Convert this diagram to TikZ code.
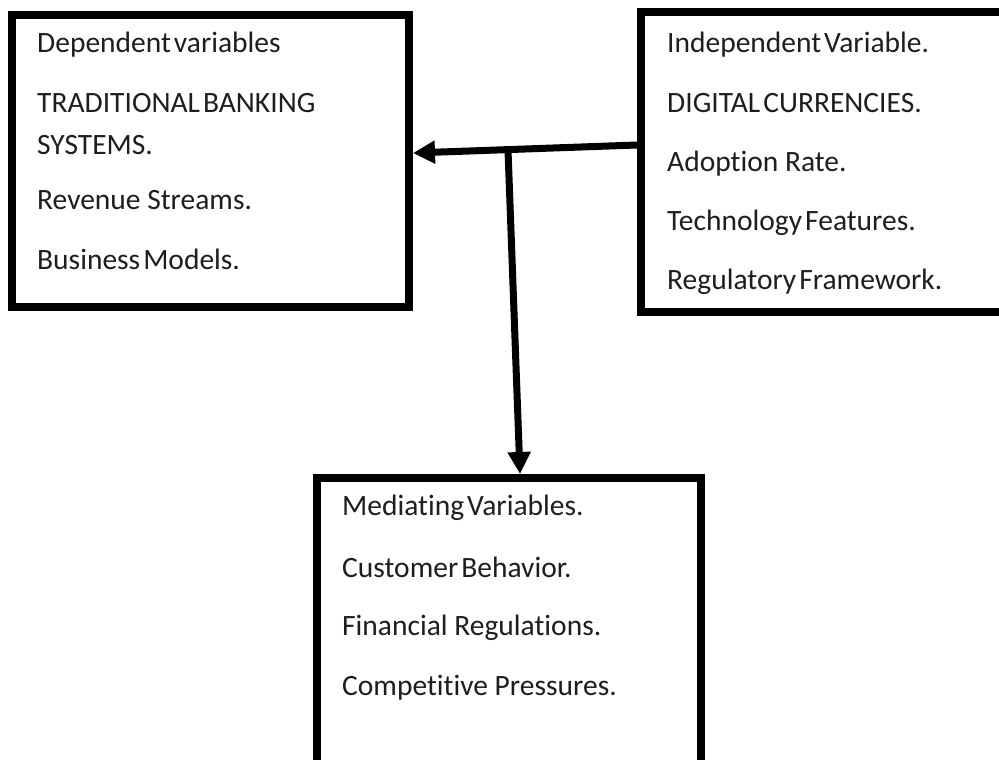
\documentclass[tikz,border=0pt]{standalone}
\usepackage{fontspec}
\setmainfont{Carlito}[Ligatures=NoCommon]
\newfontfamily\tightfont{Carlito}[Ligatures=NoCommon, WordSpace=0.45]
\usetikzlibrary{arrows.meta}
\definecolor{ink}{HTML}{1E1E1E}
\begin{document}
\begin{tikzpicture}[x=1pt,y=-1pt,
  varbox/.style={draw=black, line width=8pt, rectangle, inner sep=0pt},
  item/.style={anchor=base west, inner sep=0pt, text=ink,
    font=\tightfont\fontsize{29.5}{35}\selectfont},
  plainitem/.style={item, font=\rmfamily\fontsize{29.5}{35}\selectfont},
  link/.style={line width=7pt, -{Triangle[length=22pt,width=22pt]}}]
% canvas
\useasboundingbox (0,0) rectangle (999,760);
\clip (0,0) rectangle (999,760);
\fill[white] (0,0) rectangle (999,760);

% the three variable boxes (right and lower boxes run past the edge)
\node[varbox, minimum width=397pt, minimum height=291.5pt] (lbox) at (210.5,161.25) {};
\node[varbox, minimum width=399pt, minimum height=300pt] (rbox) at (840.5,162) {};
\node[varbox, minimum width=384pt, minimum height=322pt] (bbox) at (509,639) {};

% dependent variables
\node[item] (l1) at (37,53)  {Dependent variables};
\node[item] (l2) at (37,113) {TRADITIONAL BANKING};
\node[item] (l3) at (37,154) {SYSTEMS.};
\node[plainitem] (l4) at (37,209) {Revenue Streams.};
\node[item] (l5) at (37,269) {Business Models.};

% independent variables
\node[item] (r1) at (667,53)  {Independent Variable.};
\node[item] (r2) at (667,112) {DIGITAL CURRENCIES.};
\node[plainitem] (r3) at (667,171) {Adoption Rate.};
\node[item] (r4) at (667,230) {Technology Features.};
\node[item] (r5) at (667,289) {Regulatory Framework.};

% mediating variables
\node[item] (b1) at (342,515) {Mediating Variables.};
\node[item] (b2) at (342,577) {Customer Behavior.};
\node[plainitem] (b3) at (342,635) {Financial Regulations.};
\node[plainitem] (b4) at (342,695) {Competitive Pressures.};

% connectors
\coordinate (hs) at (0,145);
\coordinate (he) at (0,153);
\coordinate (j) at (508,150);
\draw[link] (rbox.west |- hs) -- (lbox.east |- he);
\draw[link] (j) -- ([xshift=11pt]bbox.north);
\end{tikzpicture}
\end{document}
